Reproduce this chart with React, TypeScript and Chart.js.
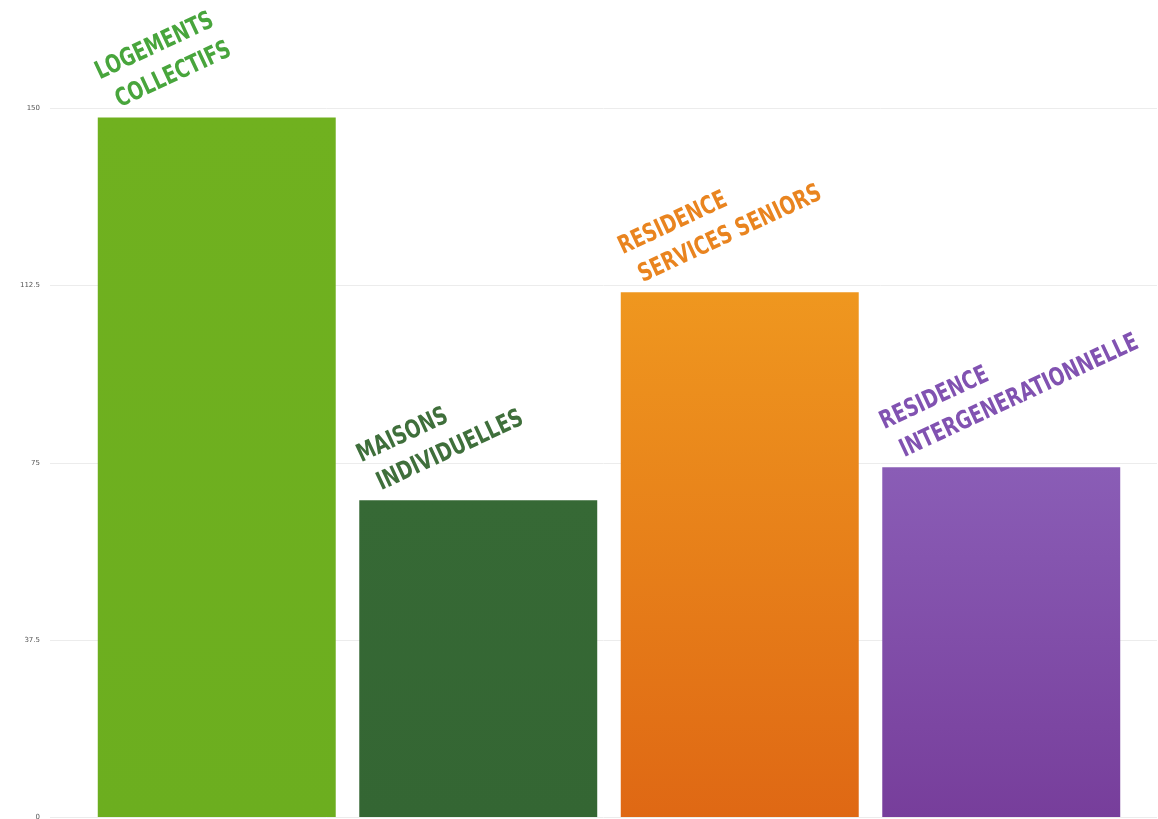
import React, { useEffect, useRef } from "react";
import { Chart, registerables } from "chart.js";

Chart.register(...registerables);

const categories: string[][] = [
  ["LOGEMENTS", "COLLECTIFS"],
  ["MAISONS", "INDIVIDUELLES"],
  ["RESIDENCE", "SERVICES SENIORS"],
  ["RESIDENCE", "INTERGENERATIONNELLE"],
];
const values: number[] = [148, 67, 111, 74];
const tickValues: number[] = [0, 37.5, 75, 112.5, 150];
const barTopColors: string[] = ["#70b11f", "#366935", "#ef971f", "#8a5db6"];
const barBottomColors: string[] = ["#6cae1f", "#346633", "#df6814", "#773e9b"];
const labelColors: string[] = ["#48a53c", "#3f6f3b", "#e9841f", "#8152b1"];

export default function App() {
  const ref = useRef<HTMLCanvasElement | null>(null);

  useEffect(() => {
    document.body.style.margin = "0";
    const canvas = ref.current;
    if (!canvas) return;

    const gridPlugin = {
      id: "customGrid",
      beforeDatasetsDraw(chart: any) {
        const { ctx } = chart;
        const y = chart.scales.y;
        ctx.save();
        ctx.strokeStyle = "#ececec";
        ctx.lineWidth = 1;
        ctx.fillStyle = "#555";
        ctx.font = "7px 'DejaVu Sans', sans-serif";
        ctx.textAlign = "right";
        ctx.textBaseline = "middle";
        tickValues.forEach((v) => {
          const py = Math.round(y.getPixelForValue(v)) + 0.5;
          ctx.beginPath();
          ctx.moveTo(50, py);
          ctx.lineTo(1157, py);
          ctx.stroke();
          ctx.fillText(String(v), 40, py);
        });
        ctx.restore();
      },
    };

    const labelPlugin = {
      id: "barLabels",
      afterDatasetsDraw(chart: any) {
        const { ctx } = chart;
        const meta = chart.getDatasetMeta(0);
        ctx.save();
        ctx.font = "bold 25px 'DejaVu Sans', sans-serif";
        ctx.textBaseline = "alphabetic";
        ctx.textAlign = "left";
        meta.data.forEach((bar: any, i: number) => {
          const left = bar.x - bar.width / 2;
          const top = bar.y;
          const lines = categories[i];
          const x2 = left + 22;
          const y2 = top - 10;
          const pos = [
            [x2 - 20, y2 - 28],
            [x2, y2],
          ];
          ctx.fillStyle = labelColors[i];
          lines.forEach((line, j) => {
            ctx.save();
            ctx.translate(pos[j][0], pos[j][1]);
            ctx.rotate((-25 * Math.PI) / 180);
            ctx.scale(0.74, 1);
            ctx.fillText(line, 0, 0);
            ctx.restore();
          });
        });
        ctx.restore();
      },
    };

    const chart = new Chart(canvas, {
      type: "bar",
      data: {
        labels: categories.map((c) => c.join(" ")),
        datasets: [
          {
            data: values,
            backgroundColor: (context: any) => {
              const chart = context.chart;
              const i = context.dataIndex;
              const ys = chart.scales?.y;
              if (!ys || !chart.chartArea) return barTopColors[i];
              const top = ys.getPixelForValue(values[i]);
              const bottom = ys.getPixelForValue(0);
              const g = chart.ctx.createLinearGradient(0, top, 0, bottom);
              g.addColorStop(0, barTopColors[i]);
              g.addColorStop(1, barBottomColors[i]);
              return g;
            },
            borderWidth: 0,
            categoryPercentage: 1,
            barPercentage: 0.91,
          },
        ],
      },
      options: {
        animation: false,
        responsive: false,
        maintainAspectRatio: false,
        layout: { padding: { top: 108, bottom: 2, right: 26, left: 0 } },
        plugins: { legend: { display: false }, tooltip: { enabled: false } },
        scales: {
          x: { display: false },
          y: {
            min: 0,
            max: 150,
            border: { display: false },
            grid: { display: false, drawTicks: false },
            afterFit: (scale: any) => {
              scale.width = 86;
            },
            ticks: { display: false, stepSize: 37.5 },
          },
        },
      },
      plugins: [gridPlugin, labelPlugin],
    });

    return () => chart.destroy();
  }, []);

  return (
    <div style={{ width: 1158, height: 819 }}>
      <canvas ref={ref} width={1158} height={819} style={{ display: "block" }} />
    </div>
  );
}
